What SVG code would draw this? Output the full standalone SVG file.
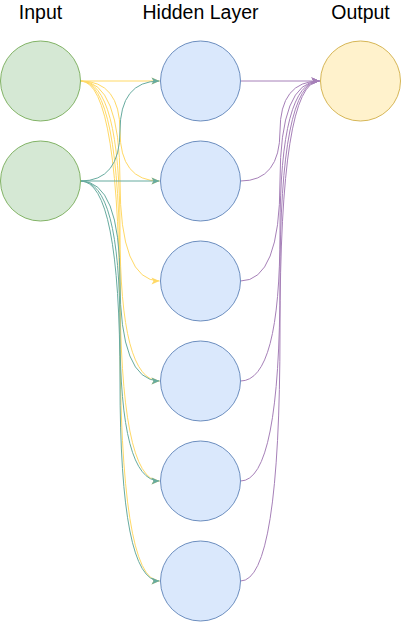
<svg xmlns="http://www.w3.org/2000/svg" width="401" height="622" viewBox="0 0 401 622">
<defs>
<style>
.lbl{font-family:"Liberation Sans",Arial,Helvetica,sans-serif;font-size:19.5px;fill:#000;text-anchor:middle}
.in{fill:#d5e8d4;stroke:#82b366;stroke-width:1}
.hid{fill:#dae8fc;stroke:#6c8ebf;stroke-width:1}
.out{fill:#fff2cc;stroke:#d6b656;stroke-width:1}
.e{fill:none;stroke-width:1}
.y{stroke:#FFD966;marker-end:url(#ay)}
.g{stroke:#67AB9F;marker-end:url(#ag)}
.p{stroke:#A680B8;marker-end:url(#ap)}
</style>
<marker id="ay" markerUnits="userSpaceOnUse" markerWidth="10" markerHeight="10" refX="8" refY="4" orient="auto" overflow="visible"><path d="M0,0.5 L8,4 L0,7.5 L2,4 Z" fill="#FFD966"/></marker>
<marker id="ag" markerUnits="userSpaceOnUse" markerWidth="10" markerHeight="10" refX="8" refY="4" orient="auto" overflow="visible"><path d="M0,0.5 L8,4 L0,7.5 L2,4 Z" fill="#67AB9F"/></marker>
<marker id="ap" markerUnits="userSpaceOnUse" markerWidth="10" markerHeight="10" refX="8" refY="4" orient="auto" overflow="visible"><path d="M0,0.5 L8,4 L0,7.5 L2,4 Z" fill="#A680B8"/></marker>
</defs>
<rect width="401" height="622" fill="#ffffff"/>
<g id="labels">
<text class="lbl" x="40.5" y="19">Input</text>
<text class="lbl" x="200.5" y="19">Hidden Layer</text>
<text class="lbl" x="360.5" y="19">Output</text>
</g>
<g id="connectors">
<path class="e y" d="M80.5 81 L159.5 81"/>
<path class="e y" d="M80.5 81 Q120 81 120 131 Q120 181 159.5 181"/>
<path class="e y" d="M80.5 81 Q120 81 120 181 Q120 281 159.5 281"/>
<path class="e y" d="M80.5 81 Q120 81 120 231 Q120 381 159.5 381"/>
<path class="e y" d="M80.5 81 Q120 81 120 281 Q120 481 159.5 481"/>
<path class="e y" d="M80.5 81 Q120 81 120 331 Q120 581 159.5 581"/>
<path class="e g" d="M80.5 181 Q120 181 120 131 Q120 81 159.5 81"/>
<path class="e g" d="M80.5 181 L159.5 181"/>
<path class="e g" d="M80.5 181 Q120 181 120 281 Q120 381 159.5 381"/>
<path class="e g" d="M80.5 181 Q120 181 120 331 Q120 481 159.5 481"/>
<path class="e g" d="M80.5 181 Q120 181 120 381 Q120 581 159.5 581"/>
<path class="e p" d="M240.5 81 L319.5 81"/>
<path class="e p" d="M240.5 181 Q280 181 280 131 Q280 81 319.5 81"/>
<path class="e p" d="M240.5 281 Q280 281 280 181 Q280 81 319.5 81"/>
<path class="e p" d="M240.5 381 Q280 381 280 231 Q280 81 319.5 81"/>
<path class="e p" d="M240.5 481 Q280 481 280 281 Q280 81 319.5 81"/>
<path class="e p" d="M240.5 581 Q280 581 280 331 Q280 81 319.5 81"/>
</g>
<g id="in1"><circle class="in" cx="40.5" cy="81" r="40"/></g>
<g id="in2"><circle class="in" cx="40.5" cy="181" r="40"/></g>
<g id="h1"><circle class="hid" cx="200.5" cy="81" r="40"/></g>
<g id="h2"><circle class="hid" cx="200.5" cy="181" r="40"/></g>
<g id="h3"><circle class="hid" cx="200.5" cy="281" r="40"/></g>
<g id="h4"><circle class="hid" cx="200.5" cy="381" r="40"/></g>
<g id="h5"><circle class="hid" cx="200.5" cy="481" r="40"/></g>
<g id="h6"><circle class="hid" cx="200.5" cy="581" r="40"/></g>
<g id="out1"><circle class="out" cx="360.5" cy="81" r="40"/></g>
</svg>
